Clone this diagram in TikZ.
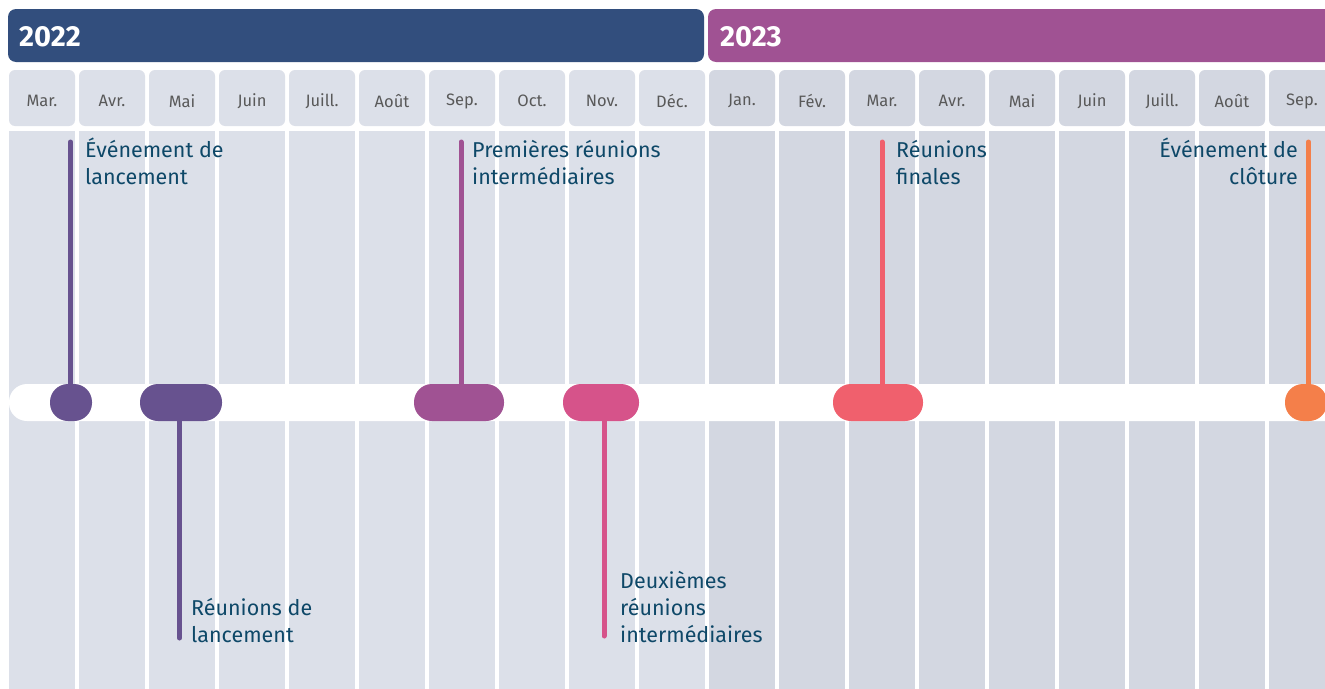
\documentclass[tikz,border=0pt]{standalone}
\usepackage{fontspec}
\setmainfont{Fira Sans}
\definecolor{bluebar}{HTML}{324E7D}
\definecolor{pinkbar}{HTML}{A05293}
\definecolor{colA}{HTML}{DCE0E9}
\definecolor{colB}{HTML}{D3D7E1}
\definecolor{monthtxt}{HTML}{595959}
\definecolor{labtxt}{HTML}{0E4868}
\definecolor{cA}{HTML}{67528F}
\definecolor{cB}{HTML}{A05293}
\definecolor{cC}{HTML}{D6538A}
\definecolor{cD}{HTML}{F0606D}
\definecolor{cE}{HTML}{F47F4A}
\tikzset{
  pill/.style={draw=none, minimum height=37pt, rounded corners=18pt, inner sep=0pt},
  stem/.style={line width=5pt, line cap=round},
  lab/.style={text=labtxt, font=\fontsize{21.5}{27}\selectfont, inner sep=0pt},
  mon/.style={text=monthtxt, font=\fontsize{16.5}{18}\selectfont},
  year/.style={text=white, font=\fontsize{29}{32}\selectfont\bfseries, anchor=west, inner sep=0pt},
}
\begin{document}
\begin{tikzpicture}[x=1pt,y=-1pt]
\useasboundingbox (0,0) rectangle (1325,688);
\clip (0,0) rectangle (1325,688);
\fill[white] (0,0) rectangle (1325,688);
% year bars
\fill[bluebar, rounded corners=8pt] (8,9) rectangle (704,62);
\fill[pinkbar, rounded corners=8pt] (708,9) rectangle (1345,62);
\node[year] (y22) at (19,37) {2022};
\node[year] (y23) at (720,37) {2023};
% columns
\foreach \i/\m in {0/Mar.,1/Avr.,2/Mai,3/Juin,4/Juill.,5/Août,6/Sep.,7/Oct.,8/Nov.,9/Déc.}{
  \fill[colA, rounded corners=6pt] (9+70*\i,126) -- (9+70*\i,70) -- (75+70*\i,70) -- (75+70*\i,126) -- cycle;
  \fill[colA] (9+70*\i,131) rectangle (75+70*\i,700);
  \node[mon] (m\i) at (42+70*\i,101) {\m};
}
\foreach \i/\m in {10/Jan.,11/Fév.,12/Mar.,13/Avr.,14/Mai,15/Juin,16/Juill.,17/Août,18/Sep.}{
  \fill[colB, rounded corners=6pt] (9+70*\i,126) -- (9+70*\i,70) -- (75+70*\i,70) -- (75+70*\i,126) -- cycle;
  \fill[colB] (9+70*\i,131) rectangle (75+70*\i,700);
  \node[mon] (m\i) at (42+70*\i,101) {\m};
}
% timeline band
\fill[white, rounded corners=18pt] (9,384) rectangle (1360,421);
% markers
\node[pill, fill=cA, minimum width=42pt] (p1) at (71,402.5) {};
\node[pill, fill=cA, minimum width=82pt] (p2) at (181,402.5) {};
\node[pill, fill=cB, minimum width=90pt] (p3) at (459,402.5) {};
\node[pill, fill=cC, minimum width=76pt] (p4) at (601,402.5) {};
\node[pill, fill=cD, minimum width=90pt] (p5) at (878,402.5) {};
\node[pill, fill=cE, minimum width=42pt] (p6) at (1306,402.5) {};
% stem ends
\coordinate (t1) at (70.5,142);
\coordinate (t2) at (179.5,638);
\coordinate (t3) at (461,142);
\coordinate (t4) at (604,636);
\coordinate (t5) at (882,142);
\coordinate (t6) at (1308.5,142);
\draw[stem, cA] (t1) -- (t1 |- p1.center);
\draw[stem, cA] (t2) -- (t2 |- p2.center);
\draw[stem, cB] (t3) -- (t3 |- p3.center);
\draw[stem, cC] (t4) -- (t4 |- p4.center);
\draw[stem, cD] (t5) -- (t5 |- p5.center);
\draw[stem, cE] (t6) -- (t6 |- p6.center);
% labels
\node[lab, anchor=north west, align=left] (l1) at (85,138) {Événement de\\lancement};
\node[lab, anchor=north west, align=left] (l3) at (472,140) {Premières réunions\\intermédiaires};
\node[lab, anchor=north west, align=left] (l5) at (896,140) {Réunions\\finales};
\node[lab, anchor=north east, align=right] (l6) at (1298,138) {Événement de\\clôture};
\node[lab, anchor=north west, align=left] (l2) at (191,598) {Réunions de\\lancement};
\node[lab, anchor=north west, align=left] (l4) at (620,571) {Deuxièmes\\réunions\\intermédiaires};
\end{tikzpicture}
\end{document}
